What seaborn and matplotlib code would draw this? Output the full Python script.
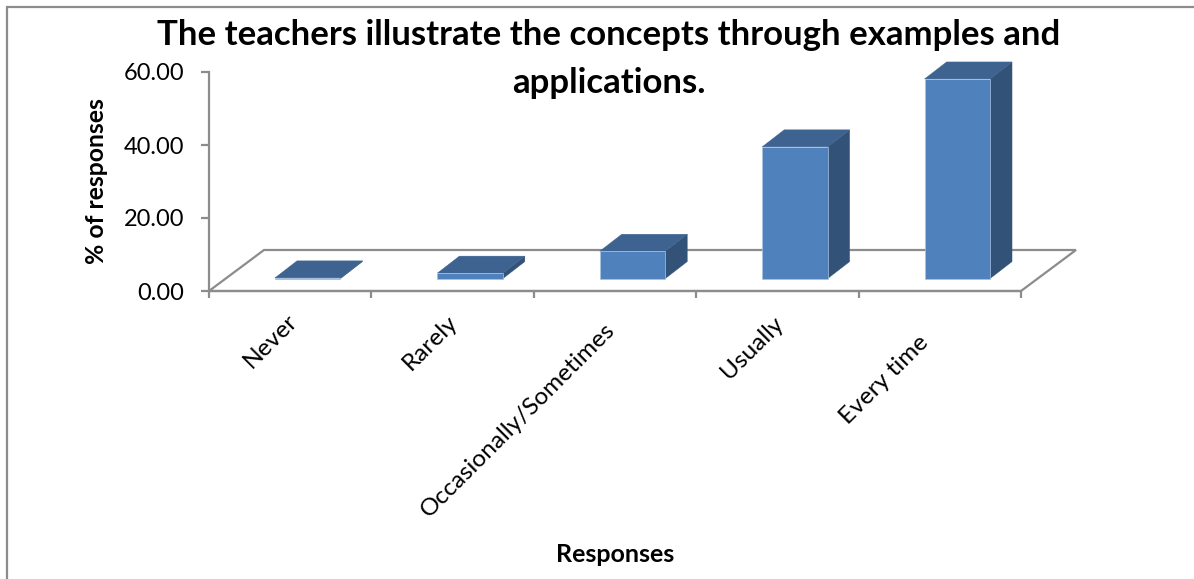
import matplotlib

matplotlib.use("Agg")
import matplotlib.pyplot as plt
import matplotlib.transforms as mtrans
from matplotlib.patches import Polygon, Rectangle
import pandas as pd
import seaborn as sns

categories = ["Never", "Rarely", "Occasionally/Sometimes", "Usually", "Every time"]
percent = [0.2, 1.5, 7.5, 36.1, 54.7]
y_ticks = [0, 20, 40, 60]

W, H = 1194, 579
GREY = "#8c8c8c"
FRONT = "#4f81bd"
TOP = "#3e6391"
SIDE = "#325277"
EDGE = "#a9c2e0"
# hand nudges for the slanted labels, in pixels
LABEL_NUDGE = [(-4, -19), (-6, -20), (-11, -28), (-5, -22), (-22, -41)]

sns.set_theme(style="white")
plt.rcParams["font.family"] = ["Lato", "DejaVu Sans"]

df = pd.DataFrame({"response": categories, "percent": percent})

fig = plt.figure(figsize=(W / 100, H / 100), dpi=100, facecolor="white")
ax = fig.add_axes([209 / W, 1 - 291 / H, 812 / W, 219 / H])
ax.patch.set_alpha(0)

sns.barplot(data=df, x="response", y="percent", color=FRONT, width=0.403,
            saturation=1, ax=ax, zorder=3)
ax.set_xlim(-0.5, 4.5)
ax.set_ylim(0, 60)


def shifted(dx, dy):
    # offset in pixels on top of data coords (y up)
    return ax.transData + mtrans.Affine2D().translate(dx, dy)


# the bars stand in the middle of the floor, not on the front edge
bar_shift = shifted(17.5, 12.4)
DEPTH_X, DEPTH_Y = 22, 17

# floor of the 3d box
x0, x1 = ax.get_xlim()
floor_front = ax.transData.transform([(x0, 0), (x1, 0)])
floor_back = floor_front + [55, 41]
ax.add_patch(Polygon([floor_front[0], floor_back[0], floor_back[1], floor_front[1]],
                     closed=True, fill=False, edgecolor=GREY, linewidth=1.6,
                     transform=None, clip_on=False, zorder=1))

for bar in ax.patches:
    if not isinstance(bar, Rectangle):
        continue
    bar.set_transform(bar_shift)
    bar.set_edgecolor(EDGE)
    bar.set_linewidth(0.5)
    bar.set_clip_on(False)
    left, right = bar.get_x(), bar.get_x() + bar.get_width()
    h = bar.get_height()
    (xl, yb), (xr, yt) = bar_shift.transform([(left, 0), (right, h)])
    top = [(xl, yt), (xr, yt), (xr + DEPTH_X, yt + DEPTH_Y), (xl + DEPTH_X, yt + DEPTH_Y)]
    side = [(xr, yb), (xr + DEPTH_X, yb + DEPTH_Y), (xr + DEPTH_X, yt + DEPTH_Y), (xr, yt)]
    ax.add_patch(Polygon(side, closed=True, facecolor=SIDE, edgecolor=SIDE, linewidth=0.3,
                         transform=None, clip_on=False, zorder=2.5))
    ax.add_patch(Polygon(top, closed=True, facecolor=TOP, edgecolor=TOP, linewidth=0.3,
                         transform=None, clip_on=False, zorder=2.6))

sns.despine(ax=ax, top=True, right=True)
for name in ("left", "bottom"):
    ax.spines[name].set_color(GREY)
    ax.spines[name].set_linewidth(1.6)

ax.set_yticks(y_ticks)
ax.set_yticklabels([f"{v:.2f}" for v in y_ticks], fontsize=17, color="black")
ax.set_xticks([i - 0.5 for i in range(len(categories) + 1)])
ax.set_xticklabels([""] * (len(categories) + 1))
ax.tick_params(axis="y", left=True, length=6, width=1.6, color=GREY, pad=12)
ax.tick_params(axis="x", bottom=True, length=5, width=1.6, color=GREY)

# category labels sit between the tick marks
label_tf = ax.get_xaxis_transform()
for i, name in enumerate(categories):
    ax.annotate(name, xy=(i, 0), xycoords=label_tf, xytext=LABEL_NUDGE[i],
                textcoords="offset pixels", rotation=45, rotation_mode="anchor",
                ha="right", va="top", fontsize=17.6, color="black")

ax.set_xlabel("")
ax.set_ylabel("")
fig.text(97 / W, 1 - 181 / H, "% of responses", rotation=90, ha="center", va="center",
         fontsize=17.8, fontweight="bold", color="black")
fig.text(615 / W, 1 - 554 / H, "Responses", ha="center", va="center",
         fontsize=18, fontweight="bold", color="black")
fig.text(609 / W, 1 - 59 / H,
         "The teachers illustrate the concepts through examples and\napplications.",
         ha="center", va="center", fontsize=25, fontweight="bold", color="black",
         linespacing=1.6, zorder=5)

# chart area frame, only left and top fall inside the crop
fig.add_artist(Rectangle((7 / W, -5 / H), 1.1, (H - 2) / H, transform=fig.transFigure,
                         fill=False, edgecolor=GREY, linewidth=1.6))

fig.savefig("out.png", dpi=100, facecolor="white")
plt.close(fig)
